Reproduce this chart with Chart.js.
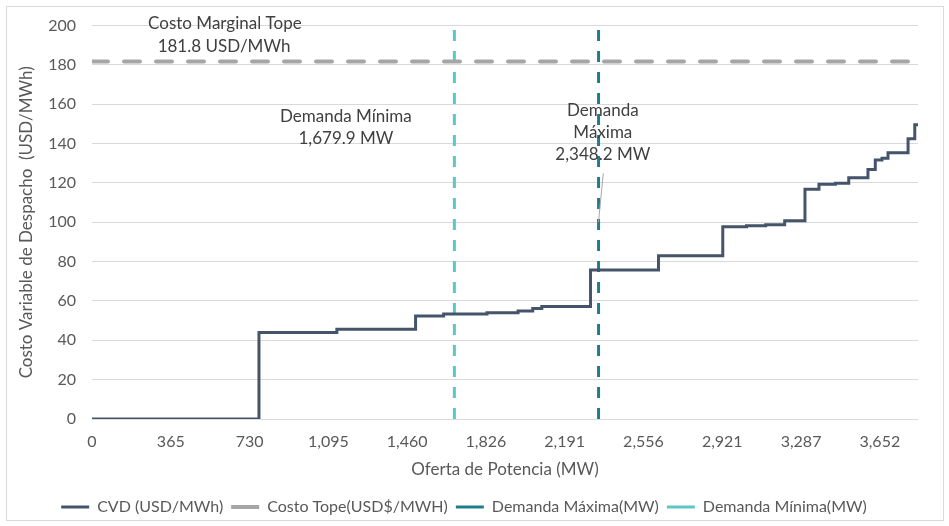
<!DOCTYPE html>
<html>
<head>
<meta charset="utf-8">
<script src="https://cdn.jsdelivr.net/npm/chart.js@4"></script>
<style>
  html, body { margin: 0; padding: 0; background: #fff; }
  #wrap { position: relative; width: 949px; height: 526px; }
  #marco { position: absolute; left: 6px; top: 6px; width: 936px; height: 513px; border: 1px solid #D9D9D9; pointer-events: none; }
</style>
</head>
<body>
<div id="wrap">
  <canvas id="grafica" width="949" height="526"></canvas>
  <div id="marco"></div>
</div>
<script>
// curva de oferta: inicio de cada escalon (MW) y su costo (USD/MWh)
const ofertaMW = [0, 774, 1135, 1500, 1630, 1831, 1975, 2043, 2085, 2311, 2626, 2924, 3034, 3123, 3211,
    3305, 3370, 3446, 3508, 3597, 3631, 3662, 3690, 3783, 3814, 3829];
const cvd = [0, 44, 45.6, 52.4, 53.4, 54, 54.9, 56.2, 57.2, 75.8, 83, 97.8, 98.3, 98.8, 100.8,
    116.8, 119.3, 119.8, 122.6, 126.8, 131.7, 132.6, 135.4, 142.5, 149.6, 149.6];

const costoTope = 181.8;
const demandaMinima = 1679.9;
const demandaMaxima = 2348.2;
const ejeXMax = 3829;

const ticksX = [0, 365.2, 730.4, 1095.6, 1460.8, 1826, 2191.2, 2556.4, 2921.6, 3286.8, 3652];
const etiquetasX = ["0", "365", "730", "1,095", "1,460", "1,826", "2,191", "2,556", "2,921", "3,287", "3,652"];

const fuente = "Lato, 'Noto Sans', sans-serif";
const gris = "#595959";

const puntosCVD = ofertaMW.map((x, i) => ({ x: x, y: cvd[i] }));

// textos sobre la grafica (posicion en MW / USD)
const notas = [
    { x: 616, y: 201, txt: "Costo Marginal Tope" },
    { x: 612, y: 189.5, txt: "181.8 USD/MWh" },
    { x: 1177, y: 154, txt: "Demanda Mínima" },
    { x: 1177, y: 142.4, txt: "1,679.9 MW" },
    { x: 2368, y: 156.7, txt: "Demanda" },
    { x: 2368, y: 145.5, txt: "Máxima" },
    { x: 2368, y: 134.5, txt: "2,348.2 MW" }
];

const pluginNotas = {
    id: "notas",
    afterDraw(chart) {
        const ctx = chart.ctx;
        const sx = chart.scales.x, sy = chart.scales.y;
        ctx.save();
        // linea guia de Demanda Maxima
        ctx.strokeStyle = "#A6A6A6";
        ctx.lineWidth = 1;
        ctx.beginPath();
        ctx.moveTo(sx.getPixelForValue(2370), sy.getPixelForValue(124.9));
        ctx.lineTo(sx.getPixelForValue(2348), sy.getPixelForValue(100));
        ctx.stroke();
        ctx.font = "17px " + fuente;
        ctx.fillStyle = "#404040";
        ctx.textAlign = "center";
        ctx.textBaseline = "middle";
        for (const n of notas) {
            ctx.fillText(n.txt, sx.getPixelForValue(n.x), sy.getPixelForValue(n.y));
        }
        ctx.restore();
    }
};

new Chart(document.getElementById("grafica"), {
    type: "line",
    data: {
        datasets: [
            {
                label: "CVD (USD/MWh)",
                data: puntosCVD,
                stepped: "before",
                borderColor: "#44546A",
                backgroundColor: "#44546A",
                borderWidth: 3,
                pointRadius: 0
            },
            {
                label: "Costo Tope(USD$/MWH)",
                data: [{ x: 0, y: costoTope }, { x: ejeXMax, y: costoTope }],
                borderColor: "#A6A6A6",
                backgroundColor: "#A6A6A6",
                borderWidth: 4,
                borderDash: [16, 16],
                borderCapStyle: "round",
                pointRadius: 0
            },
            {
                label: "Demanda Máxima(MW)",
                data: [{ x: demandaMaxima, y: 0 }, { x: demandaMaxima, y: 200 }],
                borderColor: "#1F7D8A",
                backgroundColor: "#1F7D8A",
                borderWidth: 3,
                borderDash: [11, 10],
                pointRadius: 0
            },
            {
                label: "Demanda Mínima(MW)",
                data: [{ x: demandaMinima, y: 0 }, { x: demandaMinima, y: 200 }],
                borderColor: "#5BC8C6",
                backgroundColor: "#5BC8C6",
                borderWidth: 3,
                borderDash: [11, 10],
                pointRadius: 0
            }
        ]
    },
    options: {
        responsive: false,
        animation: false,
        layout: { padding: { left: 10, right: 31, top: 16, bottom: 1 } },
        plugins: {
            legend: {
                position: "bottom",
                labels: {
                    usePointStyle: true,
                    pointStyle: "line",
                    pointStyleWidth: 28,
                    padding: 8,
                    color: gris,
                    font: { family: fuente, size: 16 }
                }
            },
            tooltip: { enabled: false }
        },
        scales: {
            x: {
                type: "linear",
                min: 0,
                max: ejeXMax,
                grid: { display: false, drawTicks: false },
                border: { display: false },
                afterBuildTicks(scale) {
                    scale.ticks = ticksX.map(v => ({ value: v }));
                },
                afterFit(scale) { scale.height = 72; },
                ticks: {
                    padding: 13,
                    color: gris,
                    font: { family: fuente, size: 16 },
                    maxRotation: 0,
                    autoSkip: false,
                    callback: (v, i) => etiquetasX[i]
                },
                title: {
                    display: true,
                    text: "Oferta de Potencia (MW)",
                    color: gris,
                    font: { family: fuente, size: 17 },
                    padding: { top: 0, bottom: 11 }
                }
            },
            y: {
                min: 0,
                max: 200,
                grid: { color: "#D9D9D9", drawTicks: false },
                border: { display: false },
                afterFit(scale) { scale.width = 82; },
                ticks: {
                    stepSize: 20,
                    padding: 16,
                    color: gris,
                    font: { family: fuente, size: 16 }
                },
                title: {
                    display: true,
                    text: "Costo Variable de Despacho  (USD/MWh)",
                    color: gris,
                    font: { family: fuente, size: 17 },
                    padding: { top: 6, bottom: 0 }
                }
            }
        }
    },
    plugins: [pluginNotas]
});
</script>
</body>
</html>
